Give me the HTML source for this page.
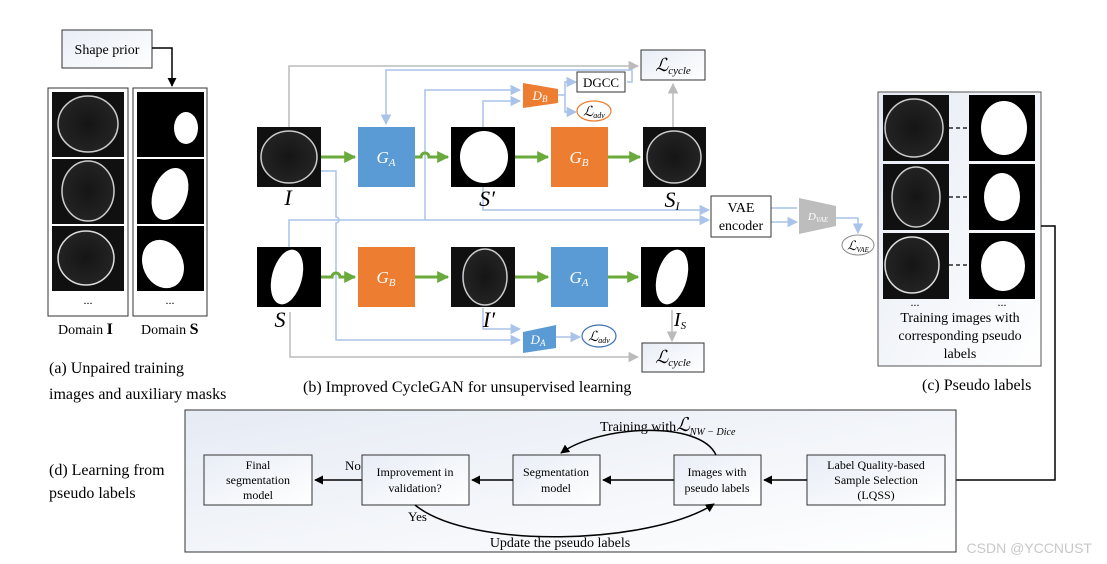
<!DOCTYPE html>
<html><head><meta charset="utf-8"><style>
html,body{margin:0;padding:0;background:#fff}
svg{display:block;font-family:"Liberation Serif",serif}
</style></head><body>
<svg width="1107" height="564" viewBox="0 0 1107 564" xmlns="http://www.w3.org/2000/svg">
<defs>
<marker id="ag" viewBox="0 0 10 10" refX="9" refY="5" markerWidth="4" markerHeight="4" orient="auto"><path d="M0,0L10,5L0,10z" fill="#6aaa3a"/></marker>
<marker id="ab" viewBox="0 0 10 10" refX="9" refY="5" markerWidth="7" markerHeight="7" orient="auto"><path d="M0,0L10,5L0,10z" fill="#a9c4e8"/></marker>
<marker id="ay" viewBox="0 0 10 10" refX="9" refY="5" markerWidth="7" markerHeight="7" orient="auto"><path d="M0,0L10,5L0,10z" fill="#bbb"/></marker>
<marker id="ak" viewBox="0 0 10 10" refX="9" refY="5" markerWidth="6" markerHeight="6" orient="auto"><path d="M0,0L10,5L0,10z" fill="#000"/></marker>
<radialGradient id="us" cx="50%" cy="50%" r="55%"><stop offset="0" stop-color="#151515"/><stop offset="0.85" stop-color="#222"/><stop offset="1" stop-color="#333"/></radialGradient>
<linearGradient id="bg" x1="0" y1="0" x2="1" y2="1"><stop offset="0" stop-color="#e6ebf4"/><stop offset="1" stop-color="#fff"/></linearGradient>
<linearGradient id="bx" x1="0" y1="0" x2="1" y2="1"><stop offset="0" stop-color="#e8edf6"/><stop offset="1" stop-color="#fff"/></linearGradient>
</defs>

<!-- (a) -->
<rect x="62" y="30" width="90" height="38" fill="url(#bx)" stroke="#333"/>
<text x="107" y="54" font-size="14" text-anchor="middle">Shape prior</text>
<path d="M152,48H172V86" fill="none" stroke="#000" stroke-width="1.5" marker-end="url(#ak)"/>
<rect x="48" y="88" width="80" height="228" fill="#fff" stroke="#333"/>
<rect x="133" y="88" width="74" height="228" fill="#fff" stroke="#333"/>
<g>
<rect x="52" y="92" width="72" height="65" fill="#101010"/><ellipse cx="88" cy="124" rx="30" ry="28" fill="url(#us)" stroke="#ccc" stroke-width="1.5"/>
<rect x="52" y="159" width="72" height="65" fill="#101010"/><ellipse cx="88" cy="191" rx="26" ry="30" fill="url(#us)" stroke="#ccc" stroke-width="1.5"/>
<rect x="52" y="226" width="72" height="65" fill="#101010"/><ellipse cx="86" cy="258" rx="28" ry="27" fill="url(#us)" stroke="#ddd" stroke-width="1.5"/>
<rect x="137" y="92" width="67" height="65" fill="#000"/><ellipse cx="186" cy="128" rx="12" ry="16" fill="#fff"/>
<rect x="137" y="159" width="67" height="65" fill="#000"/><ellipse cx="170" cy="194" rx="17" ry="27" fill="#fff" transform="rotate(20 170 194)"/>
<rect x="137" y="226" width="67" height="65" fill="#000"/><ellipse cx="163" cy="264" rx="20" ry="25" fill="#fff" transform="rotate(-25 163 264)"/>
</g>
<text x="88" y="304" font-size="12" text-anchor="middle">...</text>
<text x="170" y="304" font-size="12" text-anchor="middle">...</text>
<text x="58" y="334" font-size="14">Domain <tspan font-weight="bold" font-size="16">I</tspan></text>
<text x="141" y="334" font-size="14">Domain <tspan font-weight="bold" font-size="16">S</tspan></text>
<text x="49" y="373" font-size="16">(a) Unpaired training</text>
<text x="49" y="399" font-size="16">images and auxiliary masks</text>

<!-- (b) connectors -->
<g fill="none" stroke-width="1.5">
<path d="M289,127V66H638" stroke="#bbb" marker-end="url(#ay)"/>
<path d="M673,127V84" stroke="#bbb" marker-end="url(#ay)"/>
<path d="M627,82H632V70H386V124" stroke="#a9c4e8" marker-end="url(#ab)"/>
<path d="M425,220V90H520" stroke="#a9c4e8" marker-end="url(#ab)"/>
<path d="M483,127V101H520" stroke="#a9c4e8" marker-end="url(#ab)"/>
<path d="M558,95H565V82H575M565,95V112H575" stroke="#a9c4e8"/>
<path d="M565,82H576" stroke="#a9c4e8" marker-end="url(#ab)"/>
<path d="M565,112H576" stroke="#a9c4e8" marker-end="url(#ab)"/>
<path d="M483,187V210H709" stroke="#a9c4e8" marker-end="url(#ab)"/>
<path d="M289,247V220H709" stroke="#a9c4e8" marker-end="url(#ab)"/>
<path d="M770,208H797M770,222H797" stroke="#a9c4e8" marker-end="url(#ab)"/>
<path d="M836,218H858V233" stroke="#a9c4e8" marker-end="url(#ab)"/>
<path d="M321,171H336V217a3,3 0 0 1 0,6V340H520" stroke="#a9c4e8" marker-end="url(#ab)"/>
<path d="M483,308V329H520" stroke="#a9c4e8" marker-end="url(#ab)"/>
<path d="M556,337H580" stroke="#a9c4e8" marker-end="url(#ab)"/>
<path d="M290,312V357H638" stroke="#bbb" marker-end="url(#ay)"/>
<path d="M672,310V341" stroke="#bbb" marker-end="url(#ay)"/>
<g stroke="#6aaa3a" stroke-width="3">
<path d="M321,157H355" marker-end="url(#ag)"/>
<path d="M415,157H421a4,4 0 0 1 8,0H448" marker-end="url(#ag)"/>
<path d="M515,157H548" marker-end="url(#ag)"/>
<path d="M608,157H640" marker-end="url(#ag)"/>
<path d="M321,277H332a4,4 0 0 1 8,0H355" marker-end="url(#ag)"/>
<path d="M415,277H448" marker-end="url(#ag)"/>
<path d="M515,277H548" marker-end="url(#ag)"/>
<path d="M608,277H638" marker-end="url(#ag)"/>
</g>
</g>
<!-- images row 1 -->
<rect x="257" y="127" width="64" height="60" fill="#101010"/><ellipse cx="289" cy="157" rx="28" ry="26" fill="url(#us)" stroke="#ccc" stroke-width="1.5"/>
<rect x="451" y="127" width="64" height="60" fill="#000"/><ellipse cx="484" cy="157" rx="24" ry="26" fill="#fff"/>
<rect x="643" y="127" width="63" height="60" fill="#101010"/><ellipse cx="674" cy="157" rx="27" ry="26" fill="url(#us)" stroke="#ccc" stroke-width="1.5"/>
<rect x="358" y="127" width="57" height="60" fill="#5b9bd5"/>
<rect x="551" y="127" width="57" height="60" fill="#ed7d31"/>
<text x="386" y="163" font-size="17" fill="#fff" font-style="italic" text-anchor="middle">G<tspan font-size="11" dy="3">A</tspan></text>
<text x="579" y="163" font-size="17" fill="#fff" font-style="italic" text-anchor="middle">G<tspan font-size="11" dy="3">B</tspan></text>
<text x="288" y="205" font-size="22" font-style="italic" text-anchor="middle">I</text>
<text x="487" y="206" font-size="22" font-style="italic" text-anchor="middle">S′</text>
<text x="672" y="207" font-size="22" font-style="italic" text-anchor="middle">S<tspan font-size="12" dy="3">I</tspan></text>
<!-- row 2 -->
<rect x="257" y="247" width="64" height="60" fill="#000"/><ellipse cx="287" cy="277" rx="15" ry="28" fill="#fff" transform="rotate(15 287 277)"/>
<rect x="451" y="247" width="64" height="60" fill="#101010"/><ellipse cx="485" cy="277" rx="22" ry="28" fill="url(#us)" stroke="#ccc" stroke-width="1.5"/>
<rect x="641" y="247" width="64" height="60" fill="#000"/><ellipse cx="672" cy="277" rx="15" ry="28" fill="#fff" transform="rotate(15 672 277)"/>
<rect x="358" y="247" width="57" height="60" fill="#ed7d31"/>
<rect x="551" y="247" width="57" height="60" fill="#5b9bd5"/>
<text x="386" y="283" font-size="17" fill="#fff" font-style="italic" text-anchor="middle">G<tspan font-size="11" dy="3">B</tspan></text>
<text x="579" y="283" font-size="17" fill="#fff" font-style="italic" text-anchor="middle">G<tspan font-size="11" dy="3">A</tspan></text>
<text x="280" y="327" font-size="22" font-style="italic" text-anchor="middle">S</text>
<text x="489" y="327" font-size="22" font-style="italic" text-anchor="middle">I′</text>
<text x="680" y="326" font-size="20" font-style="italic" text-anchor="middle">I<tspan font-size="11" dy="3">S</tspan></text>
<!-- boxes -->
<rect x="641" y="50" width="64" height="30" fill="url(#bx)" stroke="#333"/>
<text x="673" y="71" font-size="18" font-style="italic" text-anchor="middle">ℒ<tspan font-size="11" dy="3">cycle</tspan></text>
<rect x="577" y="72" width="48" height="20" fill="#fff" stroke="#333"/>
<text x="601" y="87" font-size="13" text-anchor="middle">DGCC</text>
<path d="M523,83L558,89V103L523,108z" fill="#ed7d31"/>
<text x="540" y="100" font-size="13" fill="#fff" font-style="italic" text-anchor="middle">D<tspan font-size="9" dy="2">B</tspan></text>
<ellipse cx="594" cy="111" rx="17" ry="10" fill="#fff" stroke="#ed7d31" stroke-width="1.2"/>
<text x="594" y="116" font-size="14" font-style="italic" text-anchor="middle">ℒ<tspan font-size="8" dy="2">adv</tspan></text>
<rect x="711" y="196" width="60" height="41" fill="#fff" stroke="#333"/>
<text x="741" y="212" font-size="14" text-anchor="middle">VAE</text>
<text x="741" y="230" font-size="14" text-anchor="middle">encoder</text>
<path d="M799,198L836,206V226L799,234z" fill="#bdbdbd"/>
<text x="818" y="220" font-size="11" fill="#fff" font-style="italic" text-anchor="middle">D<tspan font-size="7" dy="2">VAE</tspan></text>
<ellipse cx="858" cy="245" rx="16" ry="10" fill="#fff" stroke="#888"/>
<text x="858" y="250" font-size="13" font-style="italic" text-anchor="middle">ℒ<tspan font-size="7" dy="2">VAE</tspan></text>
<path d="M523,332L556,325V348L523,353z" fill="#5b9bd5"/>
<text x="538" y="344" font-size="13" fill="#fff" font-style="italic" text-anchor="middle">D<tspan font-size="9" dy="2">A</tspan></text>
<ellipse cx="599" cy="336" rx="17" ry="11" fill="#fff" stroke="#3a6fb5" stroke-width="1.2"/>
<text x="599" y="341" font-size="14" font-style="italic" text-anchor="middle">ℒ<tspan font-size="8" dy="2">adv</tspan></text>
<rect x="642" y="343" width="62" height="29" fill="url(#bx)" stroke="#333"/>
<text x="673" y="363" font-size="18" font-style="italic" text-anchor="middle">ℒ<tspan font-size="11" dy="3">cycle</tspan></text>
<text x="303" y="392" font-size="16">(b) Improved CycleGAN for unsupervised learning</text>

<!-- (c) -->
<rect x="878" y="92" width="163" height="274" fill="url(#bg)" stroke="#555"/>
<rect x="883" y="95" width="66" height="66" fill="#101010"/><ellipse cx="914" cy="128" rx="29" ry="29" fill="url(#us)" stroke="#ccc" stroke-width="1.5"/>
<rect x="883" y="164" width="66" height="66" fill="#101010"/><ellipse cx="916" cy="197" rx="24" ry="30" fill="url(#us)" stroke="#ccc" stroke-width="1.5"/>
<rect x="883" y="233" width="66" height="66" fill="#101010"/><ellipse cx="912" cy="265" rx="27" ry="28" fill="url(#us)" stroke="#ddd" stroke-width="1.5"/>
<rect x="969" y="95" width="66" height="66" fill="#000"/><ellipse cx="1004" cy="128" rx="23" ry="27" fill="#fff"/>
<rect x="969" y="164" width="66" height="66" fill="#000"/><ellipse cx="1002" cy="197" rx="18" ry="24" fill="#fff"/>
<rect x="969" y="233" width="66" height="66" fill="#000"/><ellipse cx="1003" cy="266" rx="22" ry="25" fill="#fff"/>
<path d="M949,128H969M949,197H969M949,265H969" stroke="#000" stroke-width="1.2" stroke-dasharray="4,3"/>
<text x="915" y="306" font-size="12" text-anchor="middle">...</text>
<text x="1002" y="306" font-size="12" text-anchor="middle">...</text>
<text x="960" y="322" font-size="14" text-anchor="middle">Training images with</text>
<text x="960" y="340" font-size="14" text-anchor="middle">corresponding pseudo</text>
<text x="960" y="358" font-size="14" text-anchor="middle">labels</text>
<text x="922" y="390" font-size="16">(c) Pseudo labels</text>
<path d="M1041,226H1055V480H947" fill="none" stroke="#000" stroke-width="1.5" marker-end="url(#ak)"/>

<!-- (d) -->
<rect x="185" y="410" width="771" height="142" fill="url(#bg)" stroke="#333"/>
<text x="49" y="475" font-size="16">(d) Learning from</text>
<text x="49" y="498" font-size="16">pseudo labels</text>
<g fill="url(#bx)" stroke="#333">
<rect x="204" y="455" width="108" height="50"/>
<rect x="362" y="455" width="107" height="50"/>
<rect x="513" y="455" width="87" height="50"/>
<rect x="674" y="455" width="87" height="50"/>
<rect x="807" y="455" width="138" height="50"/>
</g>
<g font-size="12" text-anchor="middle">
<text x="258" y="469">Final</text><text x="258" y="484">segmentation</text><text x="258" y="499">model</text>
<text x="415" y="476">Improvement in</text><text x="415" y="492">validation?</text>
<text x="556" y="476">Segmentation</text><text x="556" y="492">model</text>
<text x="717" y="476">Images with</text><text x="717" y="492">pseudo labels</text>
<text x="876" y="469">Label Quality-based</text><text x="876" y="484">Sample Selection</text><text x="876" y="499">(LQSS)</text>
</g>
<g fill="none" stroke="#000" stroke-width="1.5">
<path d="M362,480H315" marker-end="url(#ak)"/>
<path d="M513,480H472" marker-end="url(#ak)"/>
<path d="M674,480H603" marker-end="url(#ak)"/>
<path d="M807,480H764" marker-end="url(#ak)"/>
<path d="M716,455C700,420 600,425 561,453" marker-end="url(#ak)"/>
<path d="M415,505C470,550 650,545 714,504" marker-end="url(#ak)"/>
</g>
<text x="345" y="470" font-size="13">No</text>
<text x="408" y="521" font-size="13">Yes</text>
<text x="600" y="431" font-size="14">Training with<tspan font-size="19" font-style="italic">ℒ</tspan><tspan font-size="10" font-style="italic" dy="4">NW − Dice</tspan></text>
<text x="560" y="547" font-size="14" text-anchor="middle">Update the pseudo labels</text>
<text x="1092" y="553" font-size="14" fill="#c8c8c8" text-anchor="end" font-family="Liberation Sans, sans-serif">CSDN @YCCNUST</text>
</svg>
</body></html>
